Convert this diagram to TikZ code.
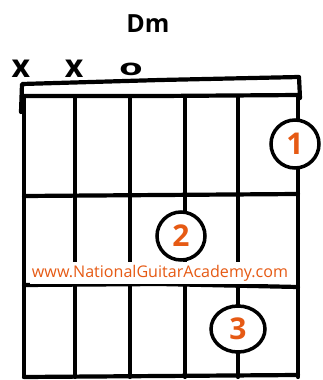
\documentclass[tikz,border=0pt]{standalone}
\usepackage{fontspec}
\usetikzlibrary{shapes.geometric}
\setmainfont{Open Sans}
\definecolor{nga}{HTML}{E65A14}
\begin{document}
\begin{tikzpicture}[x=1pt,y=-1pt,
  grid/.style={line width=4.2pt, line cap=round, line join=round},
  finger/.style={circle, draw, line width=3.5pt, fill=white, minimum size=48pt, inner sep=0pt, text=nga, font=\fontsize{30}{30}\selectfont\bfseries},
  stringmark/.style={inner sep=0pt, font=\fontsize{32}{32}\selectfont\bfseries}
]
\useasboundingbox (0,0) rectangle (322,380);
% title
\node[font=\fontsize{25}{25}\selectfont\bfseries] (title) at (148,24) {Dm};
% muted / open marks
\node[stringmark] (m6) at (21,69) {x};
\node[stringmark] (m5) at (74,69) {x};
\node[stringmark] (m4) at (131,69) {\scalebox{1.2}[0.7]{o}};
% nut
\draw[grid] (21,112) -- (22,84) -- (160,80) -- (299,77) -- (300,98);
\draw[grid] (24,96) -- (160,96) -- (299,95);
% strings
\foreach \x/\n in {24/s6, 75/s5, 130/s4, 185/s3, 238/s2, 298/s1}{
  \draw[grid] (\x,97) -- (\x,377);
}
% frets
\draw[grid] (24,196) -- (298,194);
\draw[grid] (24,285) -- (160,284) -- (298,287);
\draw[grid] (24,377) -- (298,375);
% website
\node[fill=white, inner xsep=2pt, inner ysep=3pt, text=nga] (web) at (160,273)
  {\resizebox{256pt}{!}{www.NationalGuitarAcademy.com}};
% fingers
\node[finger] (f1) at (295,144) {1};
\node[finger] (f2) at (181,236) {2};
\node[finger, ellipse, minimum width=54pt, minimum height=46pt] (f3) at (238,329) {3};
\end{tikzpicture}
\end{document}
